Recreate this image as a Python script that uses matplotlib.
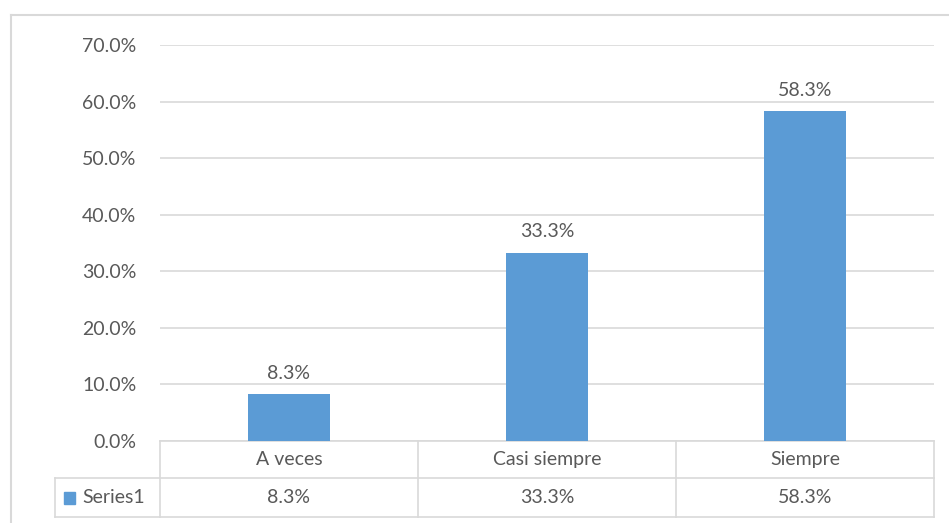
import matplotlib
matplotlib.use("Agg")
import matplotlib.pyplot as plt
from matplotlib.transforms import blended_transform_factory
from matplotlib.lines import Line2D
from matplotlib.patches import Rectangle

# ── Data ──────────────────────────────────────────────────────────────
categories = ["A veces", "Casi siempre", "Siempre"]
values = [0.083, 0.333, 0.583]
series_name = "Series1"
y_ticks = [0.0, 0.1, 0.2, 0.3, 0.4, 0.5, 0.6, 0.7]

# ── Style ─────────────────────────────────────────────────────────────
W, H = 949, 523
BAR_COLOR = "#5B9BD5"
TEXT_COLOR = "#595959"
LINE_COLOR = "#D9D9D9"
FONT = ["Lato", "DejaVu Sans"]
FS = 14

plt.rcParams["font.family"] = FONT

fig = plt.figure(figsize=(W / 100, H / 100), dpi=100)

# plot area in pixel coords
left, right, top, bottom = 160, 934, 45, 441
ax = fig.add_axes([left / W, (H - bottom) / H, (right - left) / W, (bottom - top) / H])

x = list(range(len(categories)))
ax.bar(x, values, width=0.315, color=BAR_COLOR, zorder=3)
for xi, v in zip(x, values):
    ax.annotate(f"{v * 100:.1f}%", (xi, v), xytext=(0, 9), textcoords="offset points",
                ha="center", va="bottom", fontsize=FS, color=TEXT_COLOR)

ax.set_xlim(-0.5, len(categories) - 0.5)
ax.set_ylim(0, 0.7)
ax.set_yticks(y_ticks)
ax.set_yticklabels([f"{t * 100:.1f}%" for t in y_ticks], fontsize=FS, color=TEXT_COLOR)
ax.tick_params(axis="y", length=0, pad=17)
ax.set_xticks([])
ax.grid(axis="y", color=LINE_COLOR, linewidth=1.2, zorder=0)
for s in ax.spines.values():
    s.set_visible(False)

# ── Data table below the axis ─────────────────────────────────────────
tr = blended_transform_factory(ax.transData, ax.transAxes)
ph = bottom - top
row1 = (bottom - 478) / ph
row2 = (bottom - 517) / ph
xl = -0.5 + (55 - left) / ((right - left) / len(categories))
x0, x1 = -0.5, len(categories) - 0.5

def hline(y, xa, xb):
    ax.add_line(Line2D([xa, xb], [y, y], transform=tr, color=LINE_COLOR,
                       linewidth=1.2, clip_on=False))

def vline(xv, ya, yb):
    ax.add_line(Line2D([xv, xv], [ya, yb], transform=tr, color=LINE_COLOR,
                       linewidth=1.2, clip_on=False))

hline(0, x0, x1)
hline(row1, xl, x1)
hline(row2, xl, x1)
for i in range(len(categories) + 1):
    vline(x0 + i, 0, row2)
vline(xl, row1, row2)

for xi, c, v in zip(x, categories, values):
    ax.text(xi, row1 / 2, c, transform=tr, ha="center", va="center",
            fontsize=FS, color=TEXT_COLOR)
    ax.text(xi, (row1 + row2) / 2, f"{v * 100:.1f}%", transform=tr,
            ha="center", va="center", fontsize=FS, color=TEXT_COLOR)

# legend key in the table
fig.add_artist(Rectangle((64 / W, (H - 504) / H), 11 / W, 12 / H,
                         transform=fig.transFigure, color=BAR_COLOR))
fig.text(82 / W, (H - 497.5) / H, series_name, ha="left", va="center",
         fontsize=FS, color=TEXT_COLOR)

# chart frame (cropped on right and bottom)
fig.add_artist(Line2D([11 / W, 11 / W], [0, (H - 15) / H], transform=fig.transFigure,
                      color=LINE_COLOR, linewidth=1.5))
fig.add_artist(Line2D([11 / W, 1], [(H - 15) / H, (H - 15) / H], transform=fig.transFigure,
                      color=LINE_COLOR, linewidth=1.5))

fig.savefig("out.png", dpi=100)
